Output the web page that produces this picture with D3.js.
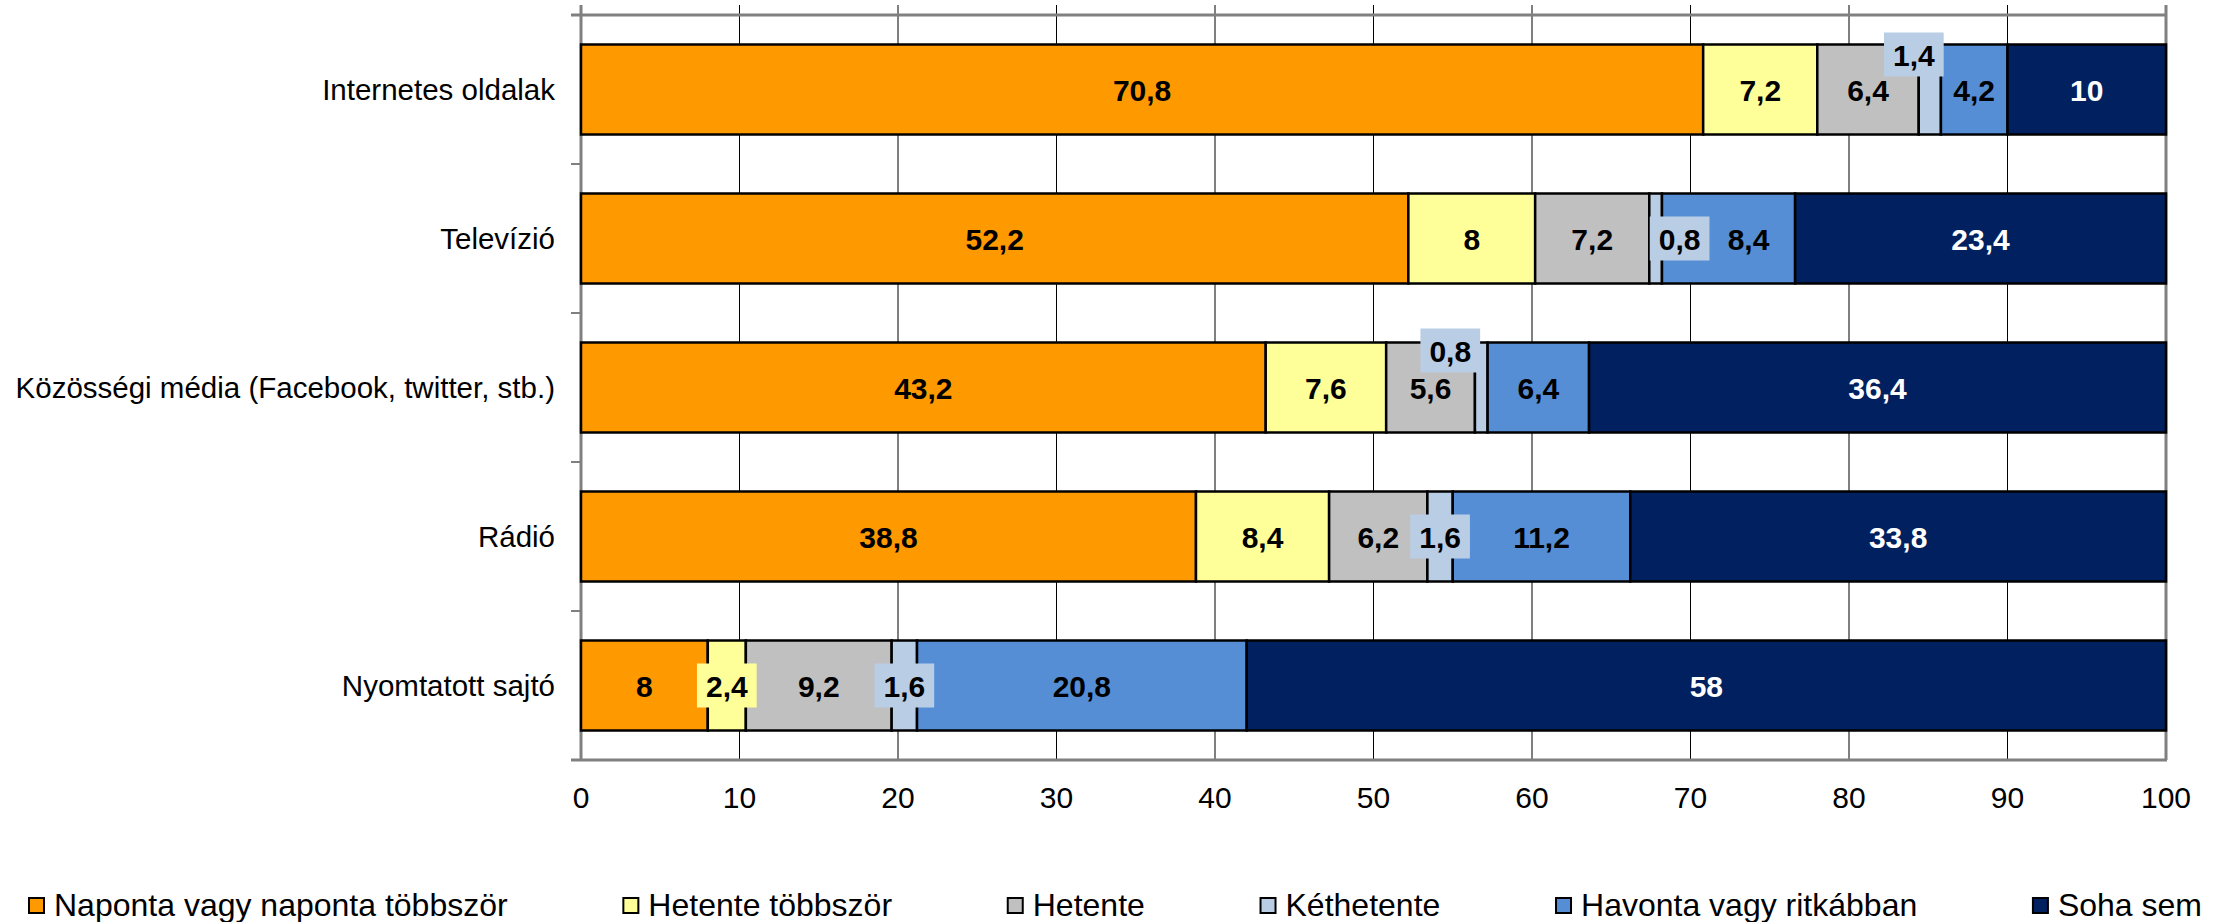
<!DOCTYPE html>
<html><head><meta charset="utf-8">
<script src="https://cdn.jsdelivr.net/npm/d3@7"></script>
<style>html,body{margin:0;padding:0;background:#fff;} svg{display:block;font-family:"Liberation Sans",Arial,sans-serif;}</style>
</head><body>
<svg id="chart" width="2229" height="922"></svg>
<script>
const categories = ["Internetes oldalak","Televízió","Közösségi média (Facebook, twitter, stb.)","Rádió","Nyomtatott sajtó"];
const seriesNames = ["Naponta vagy naponta többször","Hetente többször","Hetente","Kéthetente","Havonta vagy ritkábban","Soha sem"];
const naponta   = [70.8, 52.2, 43.2, 38.8, 8];
const hetenteTobb = [7.2, 8, 7.6, 8.4, 2.4];
const hetente   = [6.4, 7.2, 5.6, 6.2, 9.2];
const kethetente = [1.4, 0.8, 0.8, 1.6, 1.6];
const havonta   = [4.2, 8.4, 6.4, 11.2, 20.8];
const soha      = [10, 23.4, 36.4, 33.8, 58];
const tickValues = [0,10,20,30,40,50,60,70,80,90,100];

const seriesValues = [naponta, hetenteTobb, hetente, kethetente, havonta, soha];
const colors = ["#FF9900","#FFFF99","#C0C0C0","#B9CDE5","#558ED5","#002060"];
const textColors = ["#000","#000","#000","#000","#000","#fff"];
// label nudges (layout only): "categoryIndex-seriesIndex" -> [dx, dy]
const nudges = {"0-3":[-16,-35], "1-3":[24,0], "1-4":[20,0], "2-3":[-31,-37]};

const svg = d3.select("#chart");
const x = d3.scaleLinear().domain([0,100]).range([581,2166]);
const y = d3.scaleBand().domain(categories).range([15,760]).paddingInner(59/149).paddingOuter(59/298);
const fmt = v => String(v).replace(".", ",");

// gridlines
svg.append("g").selectAll("line").data(tickValues).join("line")
  .attr("x1", d=>x(d)).attr("x2", d=>x(d)).attr("y1", 5).attr("y2", 760)
  .attr("stroke", d => (d===0||d===100) ? "#808080" : "#000")
  .attr("stroke-width", d => (d===0||d===100) ? 3 : 1);

// top & bottom lines
[15,760].forEach(yy => svg.append("line").attr("x1",571).attr("x2",2167).attr("y1",yy).attr("y2",yy)
  .attr("stroke","#808080").attr("stroke-width",3));
// category ticks
const bounds = d3.range(categories.length+1).map(i => y.range()[0] + i*y.step());
svg.append("g").selectAll("line").data(bounds).join("line")
  .attr("x1",571).attr("x2",581).attr("y1",d=>d).attr("y2",d=>d)
  .attr("stroke","#808080").attr("stroke-width",2);

// stacked data
const rows = categories.map((c,i) => {
  let acc = 0;
  return seriesValues.map((s,j) => { const r = {cat:c, ci:i, si:j, v:s[i], x0:acc, x1:acc+s[i]}; acc += s[i]; return r; });
}).flat();

svg.append("g").selectAll("rect").data(rows).join("rect")
  .attr("x", d=>x(d.x0)).attr("width", d=>x(d.x1)-x(d.x0))
  .attr("y", d=>y(d.cat)).attr("height", y.bandwidth())
  .attr("fill", d=>colors[d.si])
  .attr("stroke", "#000").attr("stroke-width", 2.5);

// value labels
const lg = svg.append("g");
rows.forEach(d => {
  const w = x(d.x1)-x(d.x0);
  const n = nudges[d.ci+"-"+d.si] || [0,0];
  const cx = (x(d.x0)+x(d.x1))/2 + n[0];
  const cy = y(d.cat) + y.bandwidth()/2 + n[1];
  const g = lg.append("g");
  const t = g.append("text").attr("x", cx).attr("y", cy + 11)
    .attr("text-anchor","middle").attr("font-size",30).attr("font-weight","bold")
    .attr("fill", textColors[d.si]).text(fmt(d.v));
  const tw = t.node().getComputedTextLength();
  if (tw + 6 > w) {
    g.insert("rect","text").attr("x", cx - tw/2 - 9).attr("y", cy - 22)
      .attr("width", tw + 18).attr("height", 44).attr("fill", colors[d.si]);
  }
});

// category labels
svg.append("g").selectAll("text").data(categories).join("text")
  .attr("x", 555).attr("y", d => y(d) + y.bandwidth()/2 + 10)
  .attr("text-anchor","end").attr("font-size",29.5).attr("fill","#000").text(d=>d);

// x tick labels
svg.append("g").selectAll("text").data(tickValues).join("text")
  .attr("x", d=>x(d)).attr("y", 808).attr("text-anchor","middle")
  .attr("font-size",30).attr("fill","#000").text(d=>d);

// legend
const leg = svg.append("g");
const items = seriesNames.map((n,i) => {
  const g = leg.append("g");
  g.append("rect").attr("width",15).attr("height",15).attr("y",898).attr("fill",colors[i]).attr("stroke","#000").attr("stroke-width",2);
  const t = g.append("text").attr("x",25).attr("y",916).attr("font-size",32).attr("fill","#000").text(n);
  return {g, w: 25 + t.node().getComputedTextLength()};
});
const total = d3.sum(items, d=>d.w);
const gap = (2201 - 28 - total) / (items.length - 1);
let px = 29;
items.forEach(it => { it.g.attr("transform", `translate(${px},0)`); px += it.w + gap; });
</script>
</body></html>
